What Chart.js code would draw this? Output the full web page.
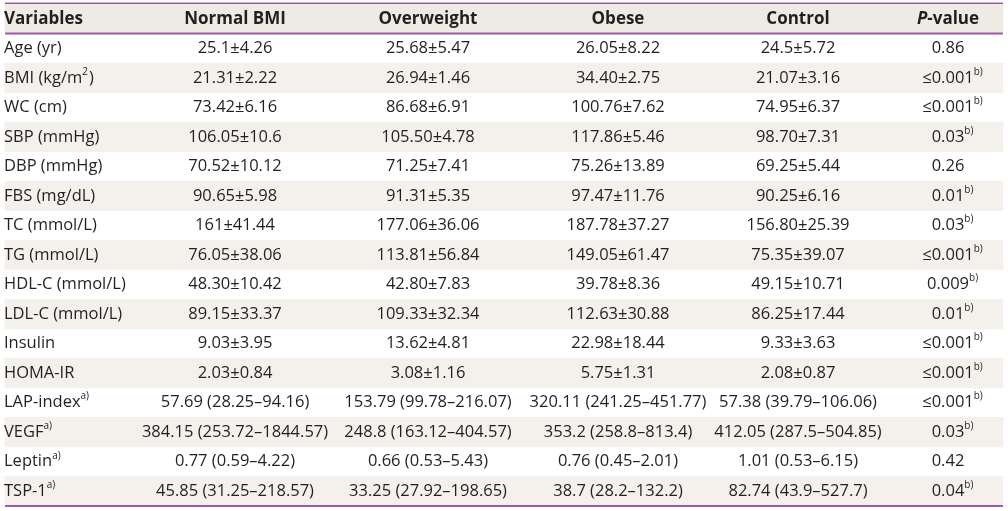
<!DOCTYPE html>
<html>
<head>
<meta charset="utf-8">
<script src="https://cdn.jsdelivr.net/npm/chart.js@4.4.1/dist/chart.umd.min.js"></script>
<style>
	html, body { margin: 0; padding: 0; background: #fff; }
	#wrap { width: 1008px; height: 511px; }
</style>
</head>
<body>
<div id="wrap"><canvas id="tableChart" width="1008" height="511"></canvas></div>
<script>
// Table content. ^{..} marks a superscript, ~{..} marks italic text
const headers = ["Variables", "Normal BMI", "Overweight", "Obese", "Control", "~{P}-value"];
const variables = [
	"Age (yr)", "BMI (kg/m^{2})", "WC (cm)", "SBP (mmHg)", "DBP (mmHg)", "FBS (mg/dL)",
	"TC (mmol/L)", "TG (mmol/L)", "HDL-C (mmol/L)", "LDL-C (mmol/L)", "Insulin", "HOMA-IR",
	"LAP-index^{a)}", "VEGF^{a)}", "Leptin^{a)}", "TSP-1^{a)}",
];
const normalBMI = [
	"25.1±4.26", "21.31±2.22", "73.42±6.16", "106.05±10.6", "70.52±10.12", "90.65±5.98",
	"161±41.44", "76.05±38.06", "48.30±10.42", "89.15±33.37", "9.03±3.95", "2.03±0.84",
	"57.69 (28.25–94.16)", "384.15 (253.72–1844.57)", "0.77 (0.59–4.22)", "45.85 (31.25–218.57)",
];
const overweight = [
	"25.68±5.47", "26.94±1.46", "86.68±6.91", "105.50±4.78", "71.25±7.41", "91.31±5.35",
	"177.06±36.06", "113.81±56.84", "42.80±7.83", "109.33±32.34", "13.62±4.81", "3.08±1.16",
	"153.79 (99.78–216.07)", "248.8 (163.12–404.57)", "0.66 (0.53–5.43)", "33.25 (27.92–198.65)",
];
const obese = [
	"26.05±8.22", "34.40±2.75", "100.76±7.62", "117.86±5.46", "75.26±13.89", "97.47±11.76",
	"187.78±37.27", "149.05±61.47", "39.78±8.36", "112.63±30.88", "22.98±18.44", "5.75±1.31",
	"320.11 (241.25–451.77)", "353.2 (258.8–813.4)", "0.76 (0.45–2.01)", "38.7 (28.2–132.2)",
];
const control = [
	"24.5±5.72", "21.07±3.16", "74.95±6.37", "98.70±7.31", "69.25±5.44", "90.25±6.16",
	"156.80±25.39", "75.35±39.07", "49.15±10.71", "86.25±17.44", "9.33±3.63", "2.08±0.87",
	"57.38 (39.79–106.06)", "412.05 (287.5–504.85)", "1.01 (0.53–6.15)", "82.74 (43.9–527.7)",
];
const pValues = [
	"0.86", "≤0.001^{b)}", "≤0.001^{b)}", "0.03^{b)}", "0.26", "0.01^{b)}",
	"0.03^{b)}", "≤0.001^{b)}", "0.009^{b)}", "0.01^{b)}", "≤0.001^{b)}", "≤0.001^{b)}",
	"≤0.001^{b)}", "0.03^{b)}", "0.42", "0.04^{b)}",
];

// layout (x in page pixels)
const tableLeft = 5;
const tableRight = 1003;
const colX = [4, 235, 428, 618, 798, 948];
const colAlign = ["left", "center", "center", "center", "center", "center"];
const textColor = "#231f20";
const ruleColor = "#9d5aa9";
const fontFamily = "'Open Sans', sans-serif";
const bodySize = 16.5;
const headSize = 17;

const columns = [variables, normalBMI, overweight, obese, control, pValues];
const rowKeys = ["header"].concat(variables.map((_, i) => "r" + i));

// split a string into plain / sup / italic pieces
function parseRich(text) {
	const parts = [];
	const re = /(\^\{[^}]*\}|~\{[^}]*\})/;
	for (const piece of text.split(re)) {
		if (!piece) continue;
		if (piece.startsWith("^{")) parts.push({ t: piece.slice(2, -1), kind: "sup" });
		else if (piece.startsWith("~{")) parts.push({ t: piece.slice(2, -1), kind: "ital" });
		else parts.push({ t: piece, kind: "plain" });
	}
	return parts;
}

function fontFor(kind, bold) {
	const w = bold ? "bold " : "";
	const size = bold ? headSize : bodySize;
	if (kind === "sup") return `${w}${Math.round(bodySize * 0.62)}px ${fontFamily}`;
	if (kind === "ital") return `italic ${w}${size}px ${fontFamily}`;
	return `${w}${size}px ${fontFamily}`;
}

function drawRich(ctx, text, x, y, align, bold) {
	const parts = parseRich(text);
	let baseWidth = 0;
	for (const p of parts) {
		ctx.font = fontFor(p.kind, bold);
		p.w = ctx.measureText(p.t).width;
		if (p.kind !== "sup") baseWidth += p.w;
	}
	let cx = align === "center" ? x - baseWidth / 2 : x;
	ctx.textAlign = "left";
	ctx.textBaseline = "middle";
	for (const p of parts) {
		ctx.font = fontFor(p.kind, bold);
		ctx.fillText(p.t, cx, p.kind === "sup" ? y - 6 : y);
		cx += p.w + (p.kind === "sup" ? 1 : 0);
	}
}

const tablePlugin = {
	id: "tableText",
	afterDatasetsDraw(chart) {
		const ctx = chart.ctx;
		const yScale = chart.scales.y;
		const x0 = chart.scales.x.getPixelForValue(tableLeft);
		const x1 = chart.scales.x.getPixelForValue(tableRight);
		const band = (yScale.getPixelForValue(1) - yScale.getPixelForValue(0));
		const headerBottom = yScale.getPixelForValue(0) + band / 2;
		const top = yScale.getPixelForValue(0) - band / 2;
		const bottom = yScale.getPixelForValue(rowKeys.length - 1) + band / 2;

		ctx.save();
		ctx.fillStyle = textColor;
		headers.forEach((h, c) => {
			drawRich(ctx, h, chart.scales.x.getPixelForValue(colX[c]), yScale.getPixelForValue(0), colAlign[c], true);
		});
		columns.forEach((col, c) => {
			col.forEach((cell, r) => {
				drawRich(ctx, cell, chart.scales.x.getPixelForValue(colX[c]), yScale.getPixelForValue(r + 1), colAlign[c], false);
			});
		});

		// rules
		ctx.fillStyle = ruleColor;
		ctx.fillRect(x0, top - 1.5, x1 - x0, 1.5);
		ctx.fillRect(x0, headerBottom - 1, x1 - x0, 2);
		ctx.fillRect(x0, bottom - 1, x1 - x0, 2);
		ctx.restore();
	},
};

const stripeData = rowKeys.map((_, i) => (i % 2 === 0 ? [tableLeft, tableRight] : null));
const stripeColors = rowKeys.map((_, i) => (i === 0 ? "#eeeae4" : "#f4f1ed"));

new Chart(document.getElementById("tableChart"), {
	type: "bar",
	data: {
		labels: rowKeys,
		datasets: [
			{
				data: stripeData,
				backgroundColor: stripeColors,
				borderWidth: 0,
				barPercentage: 1,
				categoryPercentage: 1,
			},
		],
	},
	options: {
		indexAxis: "y",
		responsive: false,
		animation: false,
		devicePixelRatio: 1,
		layout: { padding: { top: 4, bottom: 5, left: 0, right: 0 } },
		scales: {
			x: { type: "linear", min: 0, max: 1008, display: false },
			y: { type: "category", display: false, offset: true },
		},
		plugins: {
			legend: { display: false },
			tooltip: { enabled: false },
		},
	},
	plugins: [tablePlugin],
});
</script>
</body>
</html>
